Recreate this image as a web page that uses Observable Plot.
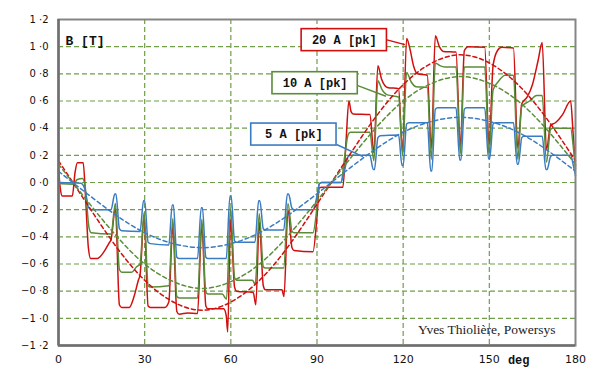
<!DOCTYPE html>
<html><head><meta charset="utf-8">
<script src="https://cdn.jsdelivr.net/npm/d3@7"></script>
<script src="https://cdn.jsdelivr.net/npm/@observablehq/plot@0.6"></script>
<style>
html,body{margin:0;padding:0;background:#fff;}
#chart svg{display:block;}
g[aria-label^="x-axis"] text{font-size:11px;}
</style></head><body><div id="chart"></div>
<script>
// ---- axis ticks ----
const xTicks = [0, 30, 60, 90, 120, 150, 180];
const xTickLabels = ["0", "30", "60", "90", "120", "150", "180"];
const yTicks = [-1.2, -1.0, -0.8, -0.6, -0.4, -0.2, 0, 0.2, 0.4, 0.6, 0.8, 1.0, 1.2];
const yTickLabels = ["\u22121 \u00b72", "\u22121 \u00b70", "\u22120 \u00b78", "\u22120 \u00b76", "\u22120 \u00b74", "\u22120 \u00b72",
  "0 \u00b70", "0 \u00b72", "0 \u00b74", "0 \u00b76", "0 \u00b78", "1 \u00b70", "1 \u00b72"];

// ---- series: solid waveforms [deg, B] ----
const wave5A = [[0,0.0],[7.8,-0.005],[9.2,-0.05],[10.4,-0.18],[11.3,-0.2],[18.3,-0.2],[19.6,-0.085],[20.0,-0.085],[21.2,-0.34],[22,-0.355],
  [28.4,-0.36],[29.6,-0.135],[30.0,-0.135],[31.2,-0.44],[32,-0.45],[38.4,-0.46],[39.6,-0.165],[40.0,-0.165],[41.2,-0.55],[42,-0.56],[48.4,-0.56],
  [49.7,-0.185],[50.1,-0.185],[51.3,-0.55],[52,-0.56],[58.4,-0.56],[59.7,-0.1],[60.1,-0.1],[61.3,-0.43],[62,-0.44],[68.4,-0.44],[69.7,-0.135],[70.1,-0.135],
  [71.3,-0.34],[72,-0.35],[78.4,-0.35],[79.7,-0.085],[80.1,-0.085],[81.3,-0.19],[82,-0.2],[88.6,-0.2],[90,-0.1],[90.8,-0.01],[91.6,0.0],
  [98.3,0.0],[99.7,0.1],[100.8,0.19],[101.6,0.2],[108.4,0.2],[109.6,0.095],[110.0,0.095],[111.2,0.33],[112,0.345],[118.4,0.35],
  [119.6,0.125],[120.0,0.125],[121.2,0.43],[122,0.44],[128.4,0.44],[129.6,0.085],[130.0,0.085],[131.2,0.54],[132,0.55],[138.4,0.55],[139.7,0.165],[140.1,0.165],
  [141.3,0.54],[142,0.55],[148.4,0.55],[149.7,0.175],[150.1,0.175],[151.3,0.43],[152,0.44],[158.4,0.44],[159.7,0.135],[160.1,0.135],[161.3,0.33],
  [162,0.34],[168.4,0.34],[169.7,0.095],[170.1,0.095],[171.3,0.19],[172,0.2],[178.3,0.2],[179.3,0.12],[180,0.05]];

const wave10A = [[0,0.01],[1,-0.01],[5.4,-0.012],[6.4,0.02],[8.4,0.03],[9.4,-0.05],[10.6,-0.33],[11.4,-0.37],[18.3,-0.38],
  [19.8,-0.155],[21.2,-0.64],[22,-0.66],[25.5,-0.66],[27.2,-0.62],[28.4,-0.6],[29.8,-0.22],[31.2,-0.76],[32,-0.77],
  [38.4,-0.76],[39.8,-0.265],[41.2,-0.84],[42,-0.85],[48.4,-0.85],[49.9,-0.27],[51.3,-0.81],[52,-0.82],[57,-0.82],
  [58.5,-0.86],[59.9,-0.19],[61.3,-0.7],[62,-0.72],[67.5,-0.72],[68.5,-0.75],[69.9,-0.23],[71.3,-0.62],[72,-0.63],
  [78.4,-0.63],[79.9,-0.155],[81.3,-0.36],[82,-0.37],[88.6,-0.37],[90,-0.18],[90.8,-0.01],[91.6,0.0],[98.3,0.0],
  [99.7,0.2],[100.8,0.35],[101.6,0.37],[108.4,0.37],[109.8,0.16],[111.2,0.75],[112.5,0.69],[114.5,0.645],[118.4,0.63],
  [119.8,0.2],[121.2,0.81],[122.8,0.74],[124.5,0.705],[128.4,0.7],[129.8,0.17],[131.2,0.88],[132.8,0.86],[134.5,0.85],
  [138.4,0.85],[139.9,0.21],[141.3,0.85],[148.4,0.85],[149.9,0.2],[151.3,0.68],[153,0.74],[155.5,0.79],[158.4,0.79],
  [159.9,0.17],[161.3,0.56],[164,0.6],[166.5,0.64],[168.4,0.64],[169.9,0.15],[171.3,0.39],[172,0.4],[178.3,0.4],
  [179.3,0.25],[180,0.1]];

const wave20A = [[0,0.1],[0.6,-0.04],[1.3,-0.1],[4.8,-0.1],[5.8,0.08],[6.6,0.145],[8.6,0.145],[9.4,-0.1],[10.4,-0.48],
  [11.2,-0.56],[13.5,-0.56],[15.5,-0.52],[17.5,-0.45],[18.3,-0.42],[19.8,-0.19],[21.2,-0.9],[22,-0.92],[24.6,-0.92],
  [26.3,-0.84],[27.8,-0.72],[28.4,-0.68],[29.8,-0.255],[31.2,-0.91],[32,-0.92],[37,-0.92],[38.4,-0.88],[39.8,-0.316],
  [41.2,-0.95],[42,-0.97],[45,-0.96],[48.4,-0.965],[49.9,-0.316],[51.3,-0.91],[52,-0.93],[57.5,-0.93],[58.4,-0.98],
  [58.9,-1.1],[59.9,-0.27],[61.3,-0.77],[62,-0.8],[67.8,-0.81],[68.7,-0.9],[69.9,-0.29],[71.3,-0.76],[72,-0.79],
  [77.8,-0.79],[78.5,-0.84],[79.9,-0.2],[81.3,-0.48],[82,-0.5],[88.6,-0.51],[90,-0.25],[90.8,-0.04],[91.6,-0.035],
  [99,-0.035],[100.1,0.3],[101.1,0.6],[101.9,0.52],[102.6,0.505],[108.4,0.5],[109.8,0.22],[111.2,0.86],[112.5,0.76],
  [114.5,0.7],[118.4,0.69],[119.8,0.22],[121.2,1.06],[122.4,0.98],[123.6,0.86],[125,0.8],[128.4,0.79],[129.8,0.25],
  [131.2,1.08],[132.6,1.0],[134,0.965],[138.4,0.96],[139.9,0.26],[141.3,0.97],[142.6,1.0],[148.4,0.995],[149.9,0.27],
  [151.3,0.86],[152.8,0.97],[154.3,0.995],[158.4,0.99],[159.9,0.25],[161.3,0.58],[163.2,0.63],[165,0.72],[167,0.9],
  [168.4,1.03],[169.9,0.24],[171.3,0.42],[173,0.44],[175.5,0.5],[178.3,0.6],[179.2,0.35],[180,0.12]];

// ---- series: dashed fundamentals, read every 10 deg ----
const fundDeg = [0,10,20,30,40,50,60,70,80,90,100,110,120,130,140,150,160,170,180];
const fund5A  = [0.083,-0.083,-0.24,-0.37,-0.45,-0.48,-0.45,-0.37,-0.24,-0.083,0.083,0.24,0.37,0.45,0.48,0.45,0.37,0.24,0.083];
const fund10A = [0.135,-0.135,-0.39,-0.60,-0.73,-0.78,-0.73,-0.60,-0.39,-0.135,0.135,0.39,0.60,0.73,0.78,0.73,0.60,0.39,0.135];
const fund20A = [0.16,-0.16,-0.47,-0.72,-0.88,-0.94,-0.88,-0.72,-0.47,-0.16,0.16,0.47,0.72,0.88,0.94,0.88,0.72,0.47,0.16];

// ---- annotations ----
const annText = ["20 A [pk]", "10 A [pk]", "5 A [pk]"];
const annX = [99.5, 89.35, 81.95];
const annY = [1.048, 0.731, 0.353];
const leadFromY = [1.05, 0.713, 0.28];
const leadToX = [120.6, 114, 106];
const leadToY = [1.015, 0.635, 0.19];
const caption = "Yves Thioli\u00e8re, Powersys";

// ---- styles ----
const RED = "#d00f0f", GREEN = "#5b8c3a", BLUE = "#3a7cc2";
const annColors = [RED, GREEN, BLUE];
const GRID = "#6f9e48";
const MONO = "'Courier New', 'Liberation Mono', monospace";

const fmtY = d => yTickLabels[yTicks.findIndex(t => Math.abs(t - d) < 1e-9)];
const fmtX = d => xTickLabels[xTicks.findIndex(t => Math.abs(t - d) < 1e-9)];
const xGrid = xTicks.slice(1, -1);
const yGrid = yTicks.slice(1, -1);
const fund = (vals) => fundDeg.map((x, i) => ({x, y: vals[i]}));

const solid = (data, color) => Plot.line(data, {x: d => d[0], y: d => d[1], stroke: color, strokeWidth: 1.5, curve: "monotone-x"});
const dashed = (vals, color) => Plot.line(fund(vals), {x: "x", y: "y", stroke: color, strokeWidth: 1.5, strokeDasharray: "4,3", curve: "natural"});

const annMarks = annText.flatMap((t, i) => [
  Plot.link([0], {x1: annX[i] + 14.85, y1: leadFromY[i], x2: leadToX[i], y2: leadToY[i], stroke: annColors[i], strokeWidth: 1.5}),
  Plot.rect([0], {x1: annX[i] - 14.85, x2: annX[i] + 14.85, y1: annY[i] - 0.081, y2: annY[i] + 0.081, fill: "white", stroke: annColors[i], strokeWidth: 1.6}),
  Plot.text([t], {x: annX[i], y: annY[i], text: d => d, fontFamily: MONO, fontWeight: "bold", fontSize: 12, fill: "#111"})
]);

const chart = Plot.plot({
  width: 600, height: 380,
  marginLeft: 58, marginRight: 25, marginTop: 19, marginBottom: 35,
  style: {fontFamily: "'DejaVu Sans', sans-serif", fontSize: "10px", color: "#111", background: "#fff"},
  x: {domain: [xTicks[0], xTicks[xTicks.length - 1]], ticks: xTicks, tickFormat: fmtX, tickSize: 0, tickPadding: 10, label: null},
  y: {domain: [yTicks[0], yTicks[yTicks.length - 1]], ticks: yTicks, tickFormat: fmtY, tickSize: 0, tickPadding: 10, label: null},
  marks: [
    Plot.ruleY(yGrid, {stroke: GRID, strokeWidth: 1.2, strokeDasharray: "5,3"}),
    Plot.ruleX(xGrid, {stroke: GRID, strokeWidth: 1.2, strokeDasharray: "5,3"}),
    solid(wave20A, RED),
    solid(wave10A, GREEN),
    solid(wave5A, BLUE),
    dashed(fund20A, RED),
    dashed(fund10A, GREEN),
    dashed(fund5A, BLUE),
    Plot.frame({stroke: "#858585", strokeWidth: 2}),
    Plot.ruleX([xTicks[0]], {stroke: "#6e6e6e", strokeWidth: 2.5}),
    Plot.ruleY([yTicks[0]], {stroke: "#6e6e6e", strokeWidth: 2.5}),
    ...annMarks,
    Plot.text(["B [T]"], {frameAnchor: "top-left", text: d => d, dx: 7, dy: 16, textAnchor: "start", fontFamily: MONO, fontWeight: "bold", fontSize: 13, fill: "#111"}),
    Plot.text(["deg"], {frameAnchor: "bottom-right", text: d => d, dx: -46, dy: 18, fontFamily: MONO, fontWeight: "bold", fontSize: 12, fill: "#111"}),
    Plot.text([caption], {frameAnchor: "bottom-right", text: d => d, dx: -20, dy: -12, textAnchor: "end", fontFamily: "'Liberation Serif', 'Times New Roman', serif", fontSize: 13.5, fill: "#222"})
  ]
});
document.getElementById("chart").appendChild(chart);
</script></body></html>
